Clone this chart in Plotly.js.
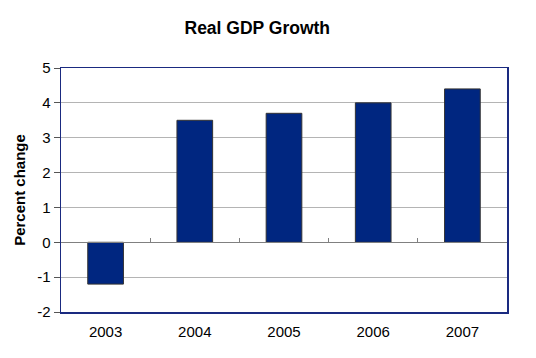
<!DOCTYPE html>
<html>
<head>
<meta charset="utf-8">
<script src="https://cdn.plot.ly/plotly-3.0.1.min.js"></script>
<style>html,body{margin:0;padding:0;background:#fff;}#chart{width:536px;height:358px;}</style>
</head>
<body>
<div id="chart"></div>
<script>
const years = ['2003', '2004', '2005', '2006', '2007'];
const growth = [-1.2, 3.5, 3.7, 4.0, 4.4];
const yTicks = [-2, -1, 0, 1, 2, 3, 4, 5];

const yMin = -2, yMax = 5;
const zeroPos = (0 - yMin) / (yMax - yMin);

const data = [
  {
    type: 'bar', x: years, y: growth,
    marker: {color: '#002680', line: {color: '#333333', width: 1}},
    hoverinfo: 'skip'
  },
  {
    type: 'scatter', mode: 'markers', x: years, y: growth, xaxis: 'x2',
    marker: {opacity: 0}, hoverinfo: 'skip', showlegend: false
  }
];

const layout = {
  width: 536, height: 358,
  margin: {l: 61, r: 29, t: 68, b: 46},
  paper_bgcolor: '#ffffff', plot_bgcolor: '#ffffff',
  showlegend: false,
  bargap: 0.6,
  font: {family: 'Liberation Sans, Arial, sans-serif', color: '#000000', size: 15},
  title: {
    text: '<b>Real GDP Growth</b>',
    font: {family: 'Liberation Sans, Arial, sans-serif', size: 17.5, color: '#000000'},
    x: 0.48, xref: 'container', xanchor: 'center',
    y: 1 - 28 / 358, yref: 'container', yanchor: 'middle'
  },
  xaxis: {
    type: 'category', categoryarray: years,
    showline: true, mirror: true, linecolor: '#1a2a80', linewidth: 1.5,
    ticks: 'outside', ticklen: 5, tickcolor: 'rgba(0,0,0,0)',
    showgrid: false, zeroline: false,
    tickfont: {size: 15}
  },
  xaxis2: {
    type: 'category', categoryarray: years, overlaying: 'x', matches: 'x',
    anchor: 'free', position: zeroPos, side: 'bottom',
    showline: true, linecolor: '#808080', linewidth: 1,
    ticks: 'inside', tickson: 'boundaries', ticklen: 4, tickcolor: '#808080',
    showticklabels: false, showgrid: false, zeroline: false
  },
  yaxis: {
    range: [yMin, yMax], tickvals: yTicks, ticktext: yTicks.map(String),
    showline: true, mirror: true, linecolor: '#1a2a80', linewidth: 1.5,
    ticks: 'outside', ticklen: 6, tickcolor: '#555555',
    showgrid: true, gridcolor: '#b4b4b4', gridwidth: 1,
    zeroline: false,
    tickfont: {size: 15},
    title: {text: '<b>Percent change</b>', font: {size: 15}, standoff: 8}
  }
};

Plotly.newPlot('chart', data, layout, {staticPlot: true, displayModeBar: false});
</script>
</body>
</html>
